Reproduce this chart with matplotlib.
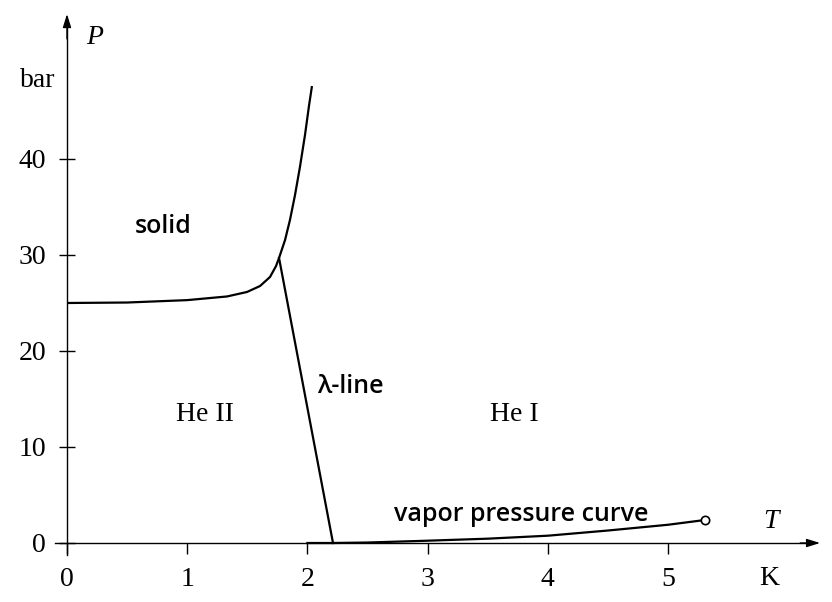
import matplotlib
matplotlib.use("Agg")
import matplotlib.pyplot as plt

# ---- data ----
melt_T = [0.0, 0.5, 1.0, 1.331, 1.498, 1.606, 1.689, 1.739, 1.764, 1.814, 1.855, 1.897, 1.938, 1.980, 2.013, 2.038]
melt_P = [25.0, 25.05, 25.3, 25.68, 26.15, 26.77, 27.71, 28.85, 29.69, 31.56, 33.65, 36.25, 39.17, 42.5, 45.52, 47.6]
lambda_T = [1.764, 2.213]
lambda_P = [29.69, 0.0]
vapor_T = [2.0, 2.2, 2.5, 3.0, 3.5, 4.0, 4.5, 5.0, 5.31]
vapor_P = [0.0, 0.0, 0.05, 0.24, 0.45, 0.76, 1.3, 1.9, 2.4]
crit_T = [5.31]
crit_P = [2.4]
xticks = [0, 1, 2, 3, 4, 5]
yticks = [0, 10, 20, 30, 40]

SERIF = ["Liberation Serif", "DejaVu Serif"]
SANS = ["Open Sans", "DejaVu Sans"]

fig = plt.figure(figsize=(8.32, 6.02), dpi=100)
ax = fig.add_axes([0, 0, 1, 1])
ax.set_xlim(-67 / 120.2, (832 - 67) / 120.2)
ax.set_ylim((543 - 602) / 9.6, 543 / 9.6)
ax.patch.set_visible(False)

for s in ("top", "right"):
    ax.spines[s].set_visible(False)
ax.spines["left"].set_position(("data", 0))
ax.spines["bottom"].set_position(("data", 0))
ax.spines["left"].set_bounds(-1.25, 53.96)
ax.spines["bottom"].set_bounds(-0.1, 6.17)
for s in ("left", "bottom"):
    ax.spines[s].set_linewidth(1.0)

ax.set_xticks(xticks)
ax.set_xticklabels([str(v) for v in xticks], fontfamily=SERIF, fontsize=20)
ax.set_yticks(yticks)
ax.set_yticklabels([str(v) for v in yticks], fontfamily=SERIF, fontsize=20)
ax.tick_params(axis="x", direction="out", length=8, width=1.0, pad=9)
ax.tick_params(axis="y", direction="inout", length=12, width=1.0, pad=9)

# arrowheads
ap = dict(arrowstyle="-|>,head_length=0.8,head_width=0.25", color="k", lw=1.0,
          shrinkA=0, shrinkB=0, mutation_scale=10)
ax.annotate("", xy=(6.265, 0), xytext=(6.10, 0), arrowprops=ap, annotation_clip=False)
ax.annotate("", xy=(0, 55.1), xytext=(0, 52.5), arrowprops=ap, annotation_clip=False)

# curves
ax.plot(melt_T, melt_P, color="k", lw=1.6, solid_capstyle="butt")
ax.plot(lambda_T, lambda_P, color="k", lw=1.6)
ax.plot(vapor_T, vapor_P, color="k", lw=1.6)
ax.plot(crit_T, crit_P, "o", ms=6, mfc="white", mec="k", mew=1.2, zorder=5)

# labels
ax.text(0.8, 33.0, "solid", fontfamily=SANS, fontweight="semibold", fontsize=18, ha="center", va="center")
ax.text(1.148, 13.4, "He II", fontfamily=SERIF, fontsize=20, ha="center", va="center")
ax.text(3.72, 13.4, "He I", fontfamily=SERIF, fontsize=20, ha="center", va="center")
ax.text(2.354, 16.35, "λ-line", fontfamily=SANS, fontweight="semibold", fontsize=18, ha="center", va="center")
ax.text(3.777, 3.0, "vapor pressure curve", fontfamily=SANS, fontweight="semibold", fontsize=18, ha="center", va="center")
ax.text(0.233, 52.7, "P", fontfamily=SERIF, fontstyle="italic", fontsize=20, ha="center", va="center")
ax.text(-0.241, 48.2, "bar", fontfamily=SERIF, fontsize=20, ha="center", va="center")
ax.text(5.857, 2.29, "T", fontfamily=SERIF, fontstyle="italic", fontsize=20, ha="center", va="center")
ax.text(5.84, -3.65, "K", fontfamily=SERIF, fontsize=20, ha="center", va="center")

fig.savefig("out.png", dpi=100)
